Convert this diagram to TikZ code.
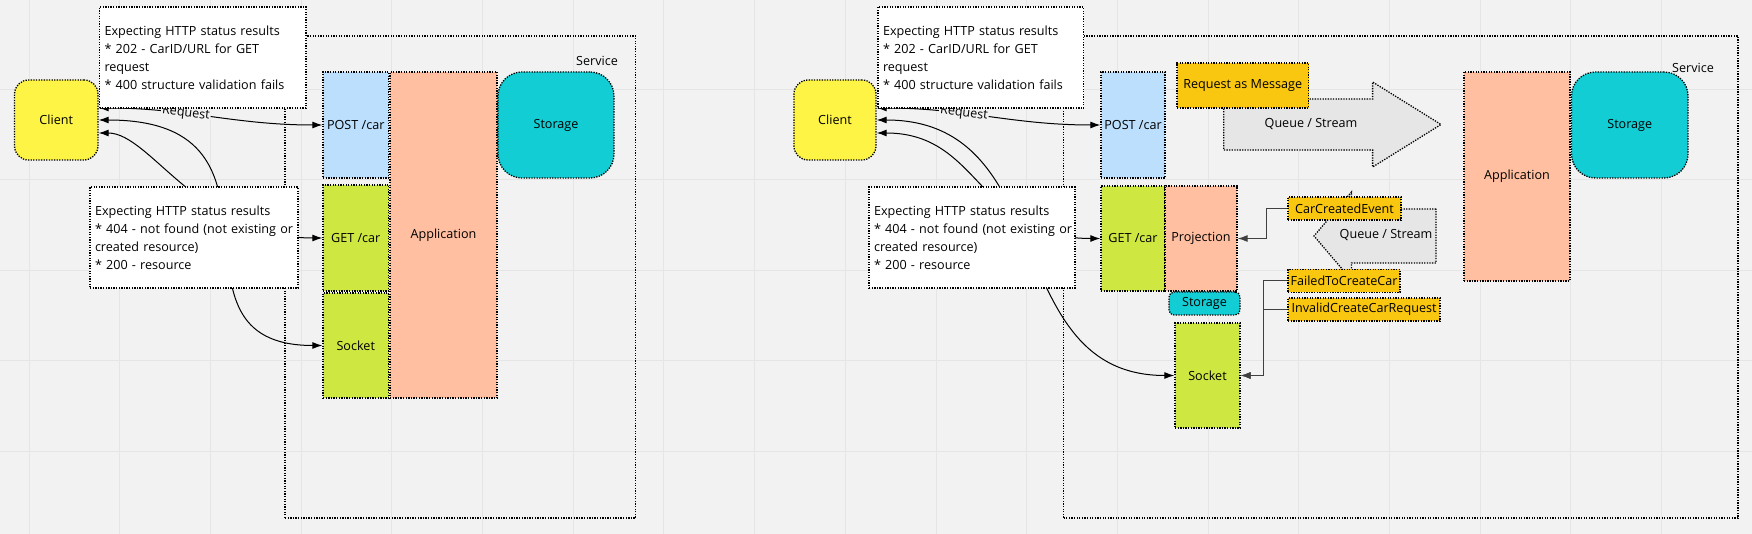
\documentclass[tikz,border=0pt]{standalone}
\usepackage{fontspec}
\setmainfont{Open Sans}
\usetikzlibrary{arrows.meta}
\definecolor{canvas}{HTML}{F2F2F2}
\definecolor{gridgray}{HTML}{E5E5E5}
\definecolor{clientyellow}{HTML}{FEF445}
\definecolor{postblue}{HTML}{BCDFFD}
\definecolor{appsalmon}{HTML}{FFBFA0}
\definecolor{storeteal}{HTML}{12CDD4}
\definecolor{getlime}{HTML}{CEE741}
\definecolor{msgorange}{HTML}{FAC710}
\definecolor{queuegray}{HTML}{E6E6E6}
\newcommand{\diagfont}{\fontsize{12.6}{18}\selectfont}
\tikzstyle{box}=[draw, line width=1.3pt, dash pattern=on 1.3pt off 1.3pt, inner sep=0pt, font=\diagfont]
\tikzstyle{note}=[box, fill=white, align=left, inner xsep=5pt, minimum height=101pt]
\tikzstyle{event}=[box, fill=msgorange, minimum height=23pt]
\tikzstyle{queue}=[box, fill=queuegray]
\tikzstyle{plain}=[font=\diagfont, inner sep=0pt]
\tikzstyle{flow}=[draw, line width=1pt, <->]
\tikzstyle{link}=[draw, line width=1pt, black!75, ->]
\tikzstyle{lbl}=[font=\diagfont, fill=canvas, inner sep=1pt, sloped]

\begin{document}
\begin{tikzpicture}[x=1pt, y=-1pt, >={Latex[length=10pt,width=7pt]}]
    % board with grid
    \useasboundingbox (0,0) rectangle (1752,534);
    \fill[canvas] (0,0) rectangle (1752,534);
    \foreach \i in {0,...,18}
        \draw[gridgray, line width=1pt] ({29+90.7*\i},0) -- ({29+90.7*\i},534);
    \foreach \j in {1,...,5}
        \draw[gridgray, line width=1pt] (0,{-1.2+90.5*\j}) -- (1752,{-1.2+90.5*\j});

    % service frames
    \foreach \pos/\name/\w/\h in {{(460.3,277)/service/350.6/482}, {(1400.75,277)/serviceB/674.5/482}}
        \node[box, minimum width=\w pt, minimum height=\h pt] (\name) at \pos {};

    % queues
    \path[queue] (1223.7,99) -- (1372.6,99) -- (1372.6,82) -- (1441,124.5) -- (1372.6,167) -- (1372.6,150) -- (1223.7,150) -- cycle;
    \node[plain] (queueA) at (1311,124) {Queue / Stream};
    \path[queue] (1436,209) -- (1351.5,209) -- (1351.5,192) -- (1314,236) -- (1351.5,280) -- (1351.5,263) -- (1436,263) -- cycle;
    \node[plain] (queueB) at (1386,235) {Queue / Stream};

    % boxes
    \foreach \pos/\name/\w/\h/\col/\txt in {{(355.75,125)/post/65.5/106/postblue/{POST /car}},
            {(443.5,235)/app/107/326/appsalmon/Application}, {(355.75,238)/get/65.5/106/getlime/{GET /car}},
            {(355.75,345.5)/sock/65.5/105/getlime/Socket}, {(1133,125)/postB/64/106/postblue/{POST /car}},
            {(1517,176.5)/appB/106/209/appsalmon/Application}, {(1133,238.5)/getB/64/105/getlime/{GET /car}},
            {(1201,238.5)/proj/72/105/appsalmon/Projection}, {(1207.5,375.5)/sockB/65/105/getlime/Socket},
            {(1242.75,85.5)/msg/131.5/45/msgorange/{Request as Message}}}
        \node[box, fill=\col, minimum width=\w pt, minimum height=\h pt] (\name) at \pos {\txt};
    \foreach \pos/\name/\w/\h/\r/\col/\txt in {{(56.25,120)/client/83.5/80/14/clientyellow/Client},
            {(835,120)/clientB/82/80/14/clientyellow/Client}, {(556,125)/store/116/106/24/storeteal/Storage},
            {(1629.75,125)/storeB/116.5/106/24/storeteal/Storage}, {(1204.5,303.5)/storeC/71/23/5/storeteal/Storage}}
        \node[box, fill=\col, rounded corners=\r pt, minimum width=\w pt, minimum height=\h pt] (\name) at \pos {\txt};
    \foreach \pos/\name/\w/\txt in {{(1344.5,208.5)/created/113/CarCreatedEvent},
            {(1344,281)/failed/112/FailedToCreateCar}, {(1364,309.5)/invalid/152/InvalidCreateCarRequest}}
        \node[event, minimum width=\w pt] (\name) at \pos {\txt};
    \node[plain] (servicelbl) at (597,61) {Service};
    \node[plain] (servicelblB) at (1693,68) {Service};

    % calls and answers
    \path[flow] ([yshift=12pt]client.east) to[out=0,in=180] node[lbl, pos=0.38] {Request} (post.west);
    \path[flow] ([yshift=-13pt]client.east) .. controls +(52,0) and +(-123,0) .. (get.west);
    \path[flow] (client.east) .. controls +(212,0) and +(-173,0) .. (sock.west);
    \path[flow] ([yshift=12pt]clientB.east) to[out=0,in=180] node[lbl, pos=0.38] {Request} (postB.west);
    \path[flow] ([yshift=-13pt]clientB.east) .. controls +(105,0) and +(-123,0) .. (getB.west);
    \path[flow] (clientB.east) .. controls +(184,0) and +(-175,0) .. (sockB.west);
    \path[link] (created.west) -- ++(-21,0) |- (proj.east);
    \path[link] (failed.west) -- ++(-23.5,0) |- (sockB.east);
    \path[link] (invalid.west) -- ++(-23.5,0) |- (sockB.east);

    % notes
    \node[note, text width=196.5pt] (noteA) at (202.75,57.5) {Expecting HTTP status results\\{}* 202 - CarID/URL for GET\\request\\{}* 400 structure validation fails};
    \node[note, text width=198pt] (noteB) at (194,237.5) {Expecting HTTP status results\\\mbox{* 404 - not found (not existing or}\\created resource)\\{}* 200 - resource};
    \node[note, text width=195.5pt] (noteC) at (980.75,57.5) {Expecting HTTP status results\\{}* 202 - CarID/URL for GET\\request\\{}* 400 structure validation fails};
    \node[note, text width=196pt] (noteD) at (972,237.5) {Expecting HTTP status results\\\mbox{* 404 - not found (not existing or}\\created resource)\\{}* 200 - resource};
\end{tikzpicture}
\end{document}
